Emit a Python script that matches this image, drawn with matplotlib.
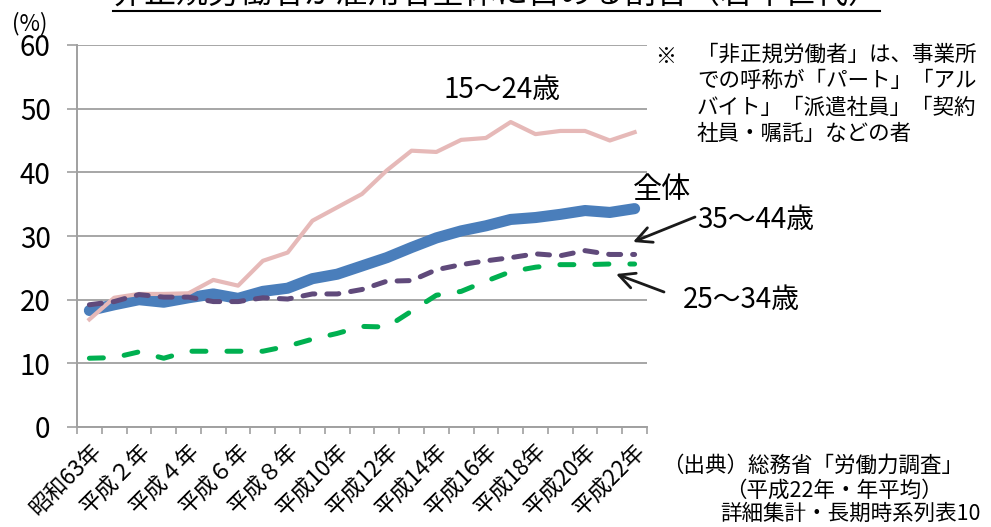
import matplotlib
matplotlib.use("Agg")
import matplotlib.pyplot as plt
from matplotlib.lines import Line2D

plt.rcParams['font.family'] = ['Noto Sans CJK JP', 'DejaVu Sans']

# 昭和63年 .. 平成22年 (1988-2010)
years = ['昭和63年', '平成元年', '平成２年', '平成３年', '平成４年', '平成５年',
         '平成６年', '平成７年', '平成８年', '平成９年', '平成10年', '平成11年',
         '平成12年', '平成13年', '平成14年', '平成15年', '平成16年', '平成17年',
         '平成18年', '平成19年', '平成20年', '平成21年', '平成22年']

overall = [18.3, 19.2, 20.0, 19.6, 20.3, 20.9, 20.2, 21.3, 21.8, 23.3, 24.0, 25.3,
           26.6, 28.2, 29.7, 30.8, 31.6, 32.6, 32.9, 33.4, 34.0, 33.7, 34.3]
age15_24 = [16.9, 20.3, 20.9, 20.9, 21.0, 23.1, 22.2, 26.1, 27.4, 32.4, 34.5, 36.6,
            40.3, 43.4, 43.2, 45.1, 45.4, 47.9, 46.0, 46.5, 46.5, 45.0, 46.3]
age25_34 = [10.8, 10.9, 11.8, 10.8, 11.9, 11.9, 11.9, 11.9, 12.7, 13.8, 14.7, 15.8,
            15.7, 18.2, 20.7, 21.3, 22.9, 24.4, 25.1, 25.5, 25.5, 25.6, 25.6]
age35_44 = [19.2, 19.7, 20.8, 20.4, 20.4, 19.7, 19.7, 20.3, 20.1, 20.9, 20.9, 21.6,
            22.9, 23.0, 24.7, 25.5, 26.1, 26.6, 27.2, 26.9, 27.7, 27.1, 27.1]

yticks = [0, 10, 20, 30, 40, 50, 60]

W, H = 991, 527


def fx(x):
    return x / W


def fy(y):
    return 1 - y / H


fig = plt.figure(figsize=(W / 100, H / 100), dpi=100)
ax = fig.add_axes([fx(77), fy(427), fx(570), 382 / H])

x = list(range(len(years)))
ax.plot(x, overall, color='#4A7EBB', lw=8, solid_capstyle='round', zorder=3)
ax.plot(x, age15_24, color='#E6B9B8', lw=3, zorder=4)
ax.plot(x, age25_34, color='#00B050', lw=3.6, ls=(0, (2.8, 4.2)),
        dash_capstyle='round', zorder=5)
ax.plot(x, age35_44, color='#604A7B', lw=3.6, ls=(0, (2.4, 2.4)),
        dash_capstyle='round', zorder=6)

ax.set_xlim(-0.5, len(years) - 0.5)
ax.set_ylim(0, 60)
ax.set_yticks(yticks)
ax.set_yticklabels([str(v) for v in yticks], fontsize=20)
ax.tick_params(axis='y', length=7, width=1.2, color='#A0A0A0', pad=12)
ax.grid(axis='y', color='#A6A6A6', lw=1.4)
ax.set_axisbelow(True)

ax.set_xticks(x[::2])
ax.set_xticklabels(years[::2], fontsize=16, rotation=45, ha='right', va='top',
                   rotation_mode='anchor')
ax.set_xticks([i - 0.5 for i in range(len(years) + 1)], minor=True)
ax.tick_params(axis='x', which='major', length=0, pad=9)
ax.tick_params(axis='x', which='minor', length=5, width=1.2, color='#A0A0A0')

for s in ['top', 'right']:
    ax.spines[s].set_visible(False)
for s in ['left', 'bottom']:
    ax.spines[s].set_color('#A0A0A0')
    ax.spines[s].set_linewidth(1.4)

# title (cut off at the top edge in the original) with underline
fig.text(fx(497), fy(-6), '非正規労働者が雇用者全体に占める割合（若年世代）',
         ha='center', va='center', fontsize=23)
fig.add_artist(Line2D([fx(113), fx(880)], [fy(11), fy(11)],
                      transform=fig.transFigure, color='black', lw=1.5))

fig.text(fx(30), fy(24), '(%)', ha='center', va='center', fontsize=16)

# series labels
fig.text(fx(502), fy(90), '15～24歳', ha='center', va='center', fontsize=20)
fig.text(fx(662), fy(190), '全体', ha='center', va='center', fontsize=21)
fig.text(fx(697), fy(220), '35～44歳', ha='left', va='center', fontsize=20)
fig.text(fx(683), fy(300), '25～34歳', ha='left', va='center', fontsize=20)

arrow = dict(arrowstyle='->', color='#1A1A1A', lw=2, mutation_scale=28,
             shrinkA=0, shrinkB=0)
ax.annotate('', xy=(fx(633), fy(242)), xycoords='figure fraction',
            xytext=(fx(695), fy(217)), textcoords='figure fraction',
            arrowprops=arrow)
ax.annotate('', xy=(fx(616), fy(274)), xycoords='figure fraction',
            xytext=(fx(664), fy(292)), textcoords='figure fraction',
            arrowprops=arrow)

# note
fig.text(fx(655), fy(57), '※', ha='left', va='center', fontsize=15)
fig.text(fx(697), fy(44), '「非正規労働者」は、事業所\nでの呼称が「パート」「アル\n'
         'バイト」「派遣社員」「契約\n社員・嘱託」などの者',
         ha='left', va='top', fontsize=15.5, linespacing=1.25)

# source
fig.text(fx(662), fy(466), '（出典）総務省「労働力調査」', ha='left', va='center',
         fontsize=15.5)
fig.text(fx(725), fy(491), '（平成22年・年平均）', ha='left', va='center',
         fontsize=15.5)
fig.text(fx(720), fy(514), '詳細集計・長期時系列表10', ha='left', va='center',
         fontsize=15.5)

fig.savefig('out.png', dpi=100)
